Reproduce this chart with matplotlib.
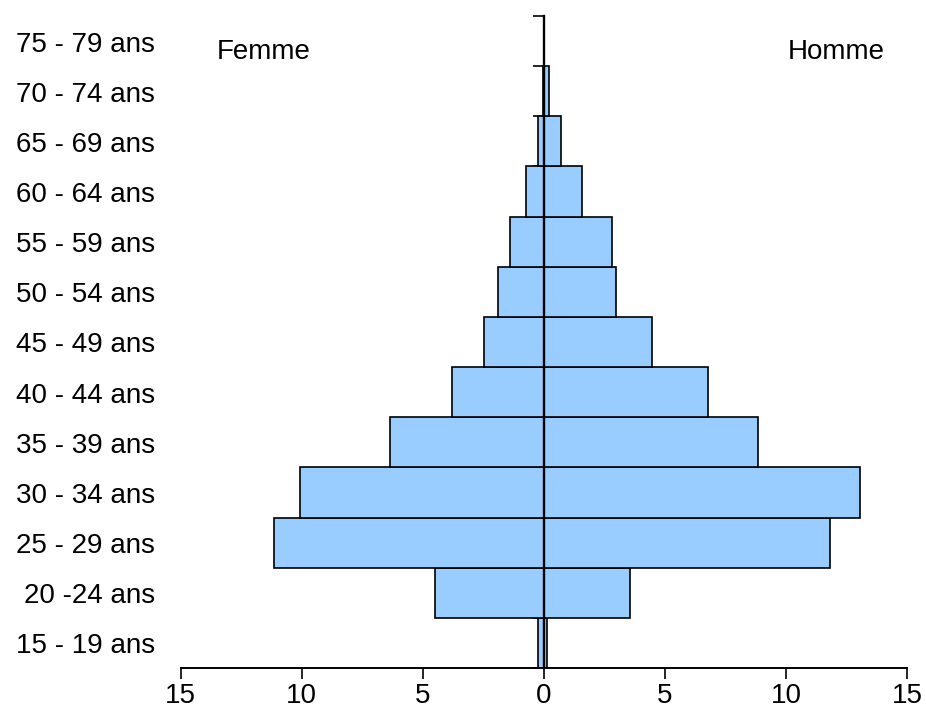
import matplotlib.pyplot as plt

# Age groups (bottom to top) and percentages read from the pyramid
ages = ['15 - 19 ans', '20 -24 ans', '25 - 29 ans', '30 - 34 ans', '35 - 39 ans',
        '40 - 44 ans', '45 - 49 ans', '50 - 54 ans', '55 - 59 ans', '60 - 64 ans',
        '65 - 69 ans', '70 - 74 ans', '75 - 79 ans']
femme = [0.23, 4.5, 11.13, 10.07, 6.36, 3.8, 2.47, 1.89, 1.40, 0.73, 0.24, 0.05, 0.0]
homme = [0.12, 3.56, 11.8, 13.06, 8.84, 6.78, 4.47, 2.98, 2.83, 1.58, 0.70, 0.2, 0.0]
x_ticks = [-15, -10, -5, 0, 5, 10, 15]

plt.rcParams['font.family'] = ['Liberation Sans', 'DejaVu Sans']

fig = plt.figure(figsize=(9.26, 7.25), dpi=100)
ax = fig.add_axes([0.195, 0.0786, 0.7845, 0.8994])

pos = list(range(len(ages)))
bar_color = '#99CCFF'
ax.barh(pos, [-v for v in femme], height=1.0, color=bar_color,
        edgecolor='black', linewidth=1.2, zorder=2)
ax.barh(pos, homme, height=1.0, color=bar_color,
        edgecolor='black', linewidth=1.2, zorder=2)

ax.set_xlim(-15, 15)
ax.set_ylim(-0.5, len(ages) - 0.5)

# Spines: bottom value axis, vertical category axis at zero
ax.spines['top'].set_visible(False)
ax.spines['right'].set_visible(False)
ax.spines['bottom'].set_linewidth(1.4)
ax.spines['left'].set_position(('data', 0))
ax.spines['left'].set_linewidth(1.7)
ax.spines['left'].set_zorder(3)

ax.set_xticks(x_ticks)
ax.set_xticklabels([str(abs(t)) for t in x_ticks])
ax.tick_params(axis='x', direction='out', length=8, width=1.2, pad=3, labelsize=20)

# Category boundaries as ticks on the zero axis, labels placed on the far left
ax.set_yticks([p - 0.5 for p in pos] + [len(ages) - 0.5])
ax.set_yticklabels([])
ax.tick_params(axis='y', direction='out', length=8, width=1.2)

for p, label in zip(pos, ages):
    ax.text(-0.035, p - 0.07, label, transform=ax.get_yaxis_transform(),
            ha='right', va='center', fontsize=20)

ax.text(-13.49, 11.78, 'Femme', ha='left', va='center', fontsize=20)
ax.text(14.06, 11.78, 'Homme', ha='right', va='center', fontsize=20)

fig.savefig('out.png', dpi=100)
